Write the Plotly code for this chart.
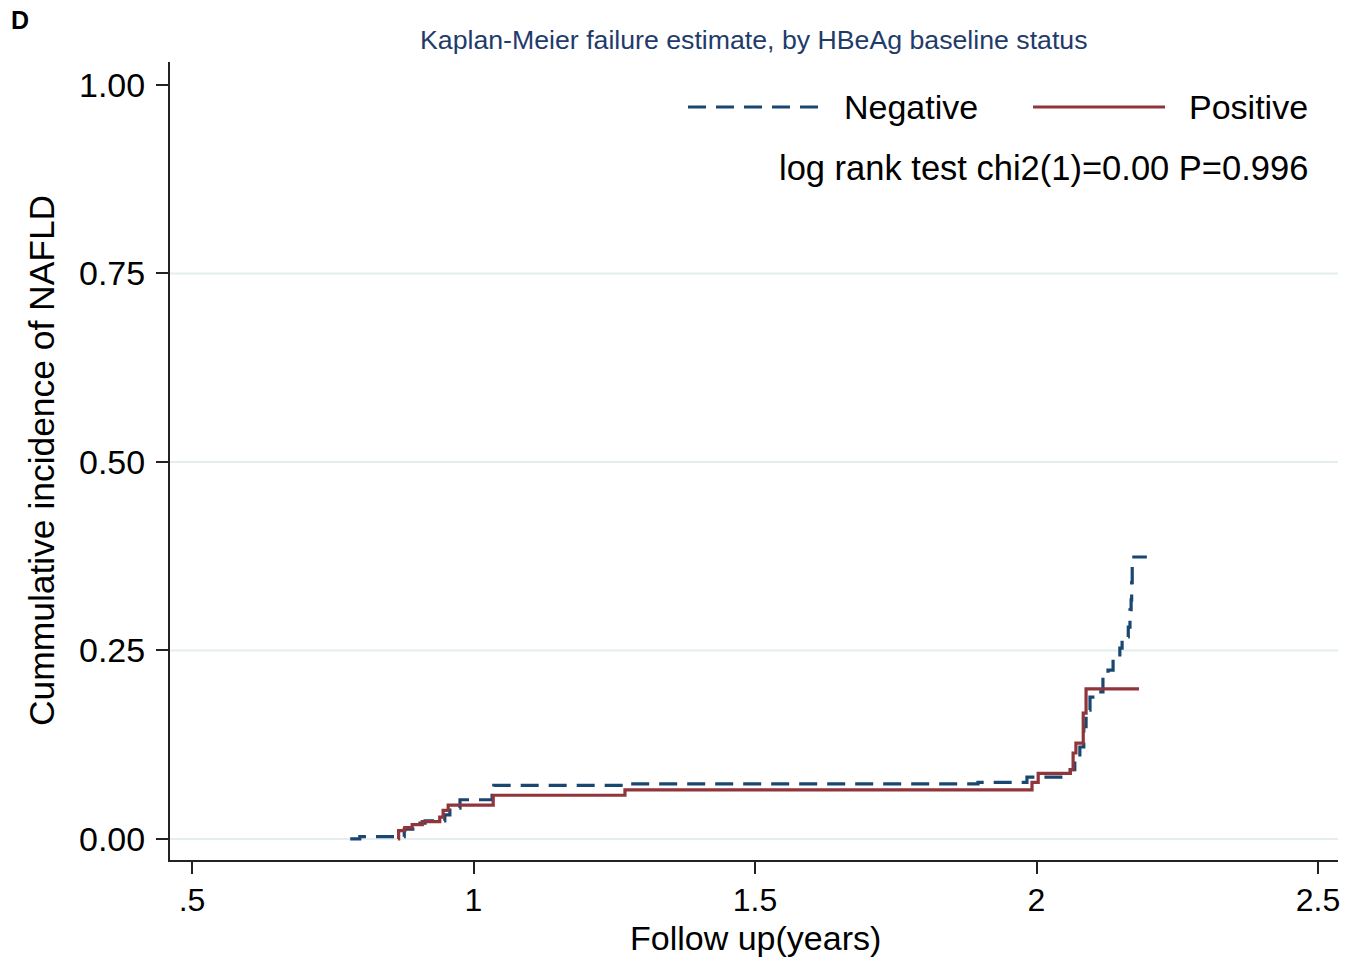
import plotly.graph_objects as go

# Kaplan-Meier failure estimates (cumulative incidence) by HBeAg baseline status
neg_time = [0.781, 0.798, 0.877, 0.896, 0.914, 0.949, 0.958, 0.976, 1.033, 1.036,
            1.278, 1.896, 1.983, 2.060, 2.068, 2.077, 2.084, 2.088, 2.095, 2.100,
            2.118, 2.127, 2.136, 2.148, 2.152, 2.163, 2.166, 2.168, 2.169, 2.170, 2.196]
neg_inc = [0.000, 0.003, 0.013, 0.021, 0.024, 0.032, 0.041, 0.052, 0.058, 0.071,
           0.073, 0.075, 0.082, 0.092, 0.105, 0.122, 0.149, 0.171, 0.188, 0.195,
           0.215, 0.224, 0.244, 0.253, 0.268, 0.281, 0.304, 0.317, 0.340, 0.374, 0.374]

pos_time = [0.866, 0.867, 0.878, 0.891, 0.909, 0.940, 0.946, 0.955, 1.035, 1.269,
            1.992, 2.003, 2.060, 2.065, 2.070, 2.083, 2.088, 2.182]
pos_inc = [0.000, 0.011, 0.015, 0.019, 0.023, 0.029, 0.038, 0.045, 0.058, 0.065,
           0.075, 0.087, 0.092, 0.114, 0.127, 0.167, 0.199, 0.199]

x_ticks = [0.5, 1, 1.5, 2, 2.5]
x_tick_text = [".5", "1", "1.5", "2", "2.5"]
y_ticks = [0, 0.25, 0.5, 0.75, 1.0]
y_tick_text = ["0.00", "0.25", "0.50", "0.75", "1.00"]
grid_levels = [0, 0.25, 0.5, 0.75]

NAVY = "#1a476f"
MAROON = "#90353b"
FONT = "Liberation Sans, Arial, sans-serif"
BIG = 34

fig = go.Figure()
fig.add_trace(go.Scatter(x=neg_time, y=neg_inc, mode="lines", name="Negative",
                         line=dict(color=NAVY, width=3.2, dash="18px,10px", shape="hv"),
                         showlegend=False))
fig.add_trace(go.Scatter(x=pos_time, y=pos_inc, mode="lines", name="Positive",
                         line=dict(color=MAROON, width=3.2, shape="hv"),
                         showlegend=False))

shapes = []
for g in grid_levels:
    shapes.append(dict(type="line", xref="paper", yref="y", x0=0, x1=1, y0=g, y1=g,
                       line=dict(color="#e4eef0", width=2), layer="below"))

# legend keys
shapes.append(dict(type="line", xref="paper", yref="paper", x0=0.4435, x1=0.5565,
                   y0=0.9436, y1=0.9436, line=dict(color=NAVY, width=3, dash="18px,10px")))
shapes.append(dict(type="line", xref="paper", yref="paper", x0=0.7389, x1=0.8519,
                   y0=0.9436, y1=0.9436, line=dict(color=MAROON, width=3)))

annotations = [
    dict(text="Negative", xref="paper", yref="paper", x=0.5753, y=0.9436,
         xanchor="left", yanchor="middle", showarrow=False,
         font=dict(size=BIG, color="black", family=FONT)),
    dict(text="Positive", xref="paper", yref="paper", x=0.8707, y=0.9436,
         xanchor="left", yanchor="middle", showarrow=False,
         font=dict(size=BIG, color="black", family=FONT)),
    dict(text="log rank test chi2(1)=0.00 P=0.996", xref="paper", yref="paper",
         x=0.976, y=0.8672, xanchor="right", yanchor="middle", showarrow=False,
         font=dict(size=BIG + 0.5, color="black", family=FONT)),
    dict(text="Kaplan-Meier failure estimate, by HBeAg baseline status",
         xref="paper", yref="paper", x=0.5, y=1.0276, xanchor="center",
         yanchor="middle", showarrow=False,
         font=dict(size=26.7, color="#1f3b6b", family=FONT)),
    dict(text="<b>D</b>", xref="paper", yref="paper", x=-0.1375, y=1.0526,
         xanchor="left", yanchor="middle", showarrow=False,
         font=dict(size=25, color="black", family=FONT)),
    dict(text="Cummulative incidence of NAFLD", xref="paper", yref="paper",
         x=-0.1096, y=0.5013, xanchor="center", yanchor="middle", textangle=-90,
         showarrow=False, font=dict(size=35.4, color="black", family=FONT)),
    dict(text="Follow up(years)", xref="paper", yref="paper", x=0.5009, y=-0.0977,
         xanchor="center", yanchor="middle", showarrow=False,
         font=dict(size=BIG, color="black", family=FONT)),
]

fig.update_layout(
    width=1360, height=961,
    margin=dict(l=170, r=22, t=62, b=101),
    paper_bgcolor="white", plot_bgcolor="white",
    shapes=shapes, annotations=annotations,
    xaxis=dict(range=[0.4609, 2.5355], tickvals=x_ticks, ticktext=x_tick_text,
               showgrid=False, zeroline=False, showline=True, linecolor="#222222",
               linewidth=2, ticks="outside", ticklen=12, tickwidth=2,
               ticklabelstandoff=-1,
               tickcolor="#222222", tickfont=dict(size=32, color="black", family=FONT)),
    yaxis=dict(range=[-0.0279, 1.0305], tickvals=y_ticks, ticktext=y_tick_text,
               showgrid=False, zeroline=False, showline=True, linecolor="#222222",
               linewidth=2, ticks="outside", ticklen=12, tickwidth=2,
               ticklabelstandoff=4,
               tickcolor="#222222", tickfont=dict(size=BIG, color="black", family=FONT)),
)

fig.write_html("out.html")
